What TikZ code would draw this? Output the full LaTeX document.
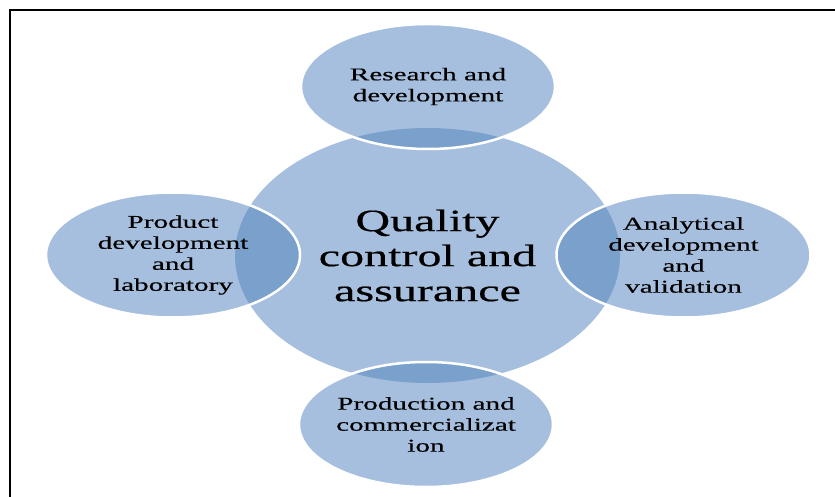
\documentclass[tikz,border=0pt]{standalone}
\usepackage{fontspec}
\setmainfont{Liberation Serif}
\newfontfamily\satfont[FakeStretch=1.62,FakeBold=0.4]{Liberation Serif}
\newfontfamily\cenfont[FakeStretch=1.55,FakeBold=0.6]{Liberation Serif}
\usetikzlibrary{shapes.geometric}
\definecolor{lightb}{HTML}{A7BFDE}
\definecolor{darkb}{HTML}{7AA0CC}
\tikzset{
  censhape/.style={ellipse, fill=lightb, draw=none, inner sep=0pt, minimum width=385pt, minimum height=255pt},
  satshape/.style={ellipse, fill=lightb, draw=none, inner sep=0pt, minimum width=254pt, minimum height=125pt},
  sattext/.style={align=center, inner sep=0pt, font=\satfont\fontsize{18}{21}\selectfont},
  centext/.style={align=center, inner sep=0pt, font=\cenfont\fontsize{31}{35}\selectfont},
  frameline/.style={line width=2pt, black}
}
\begin{document}
\begin{tikzpicture}[x=1pt,y=-1pt]
\useasboundingbox (0,0) rectangle (835,497);
\draw[frameline] (10,497) -- (10,10) -- (835,10);
\node[censhape] (c) at (427.5,255.5) {};
\node[satshape] (t) at (428,86.5) {};
\node[satshape] (l) at (173,255) {};
\node[satshape] (r) at (683.5,255) {};
\node[satshape] (b) at (426,424.5) {};
\foreach \s in {t,l,r,b}{
  \begin{scope}
    \clip (\s.center) ellipse [x radius=127pt, y radius=62.5pt];
    \fill[darkb] (c.center) ellipse [x radius=192.5pt, y radius=127.5pt];
  \end{scope}
  \draw[white, line width=2.5pt] (\s.center) ellipse [x radius=127pt, y radius=62.5pt];
}
\node[sattext] (tt) at (t.center) {Research and\\development};
\node[sattext] (lt) at (l.center) {Product\\development\\and\\laboratory};
\node[sattext] (rt) at (r.center) {Analytical\\development\\and\\validation};
\node[sattext] (bt) at (b.center) {Production and\\commercializat\\ion};
\node[centext] (ct) at (c.center) {Quality\\control and\\assurance};
\end{tikzpicture}
\end{document}
